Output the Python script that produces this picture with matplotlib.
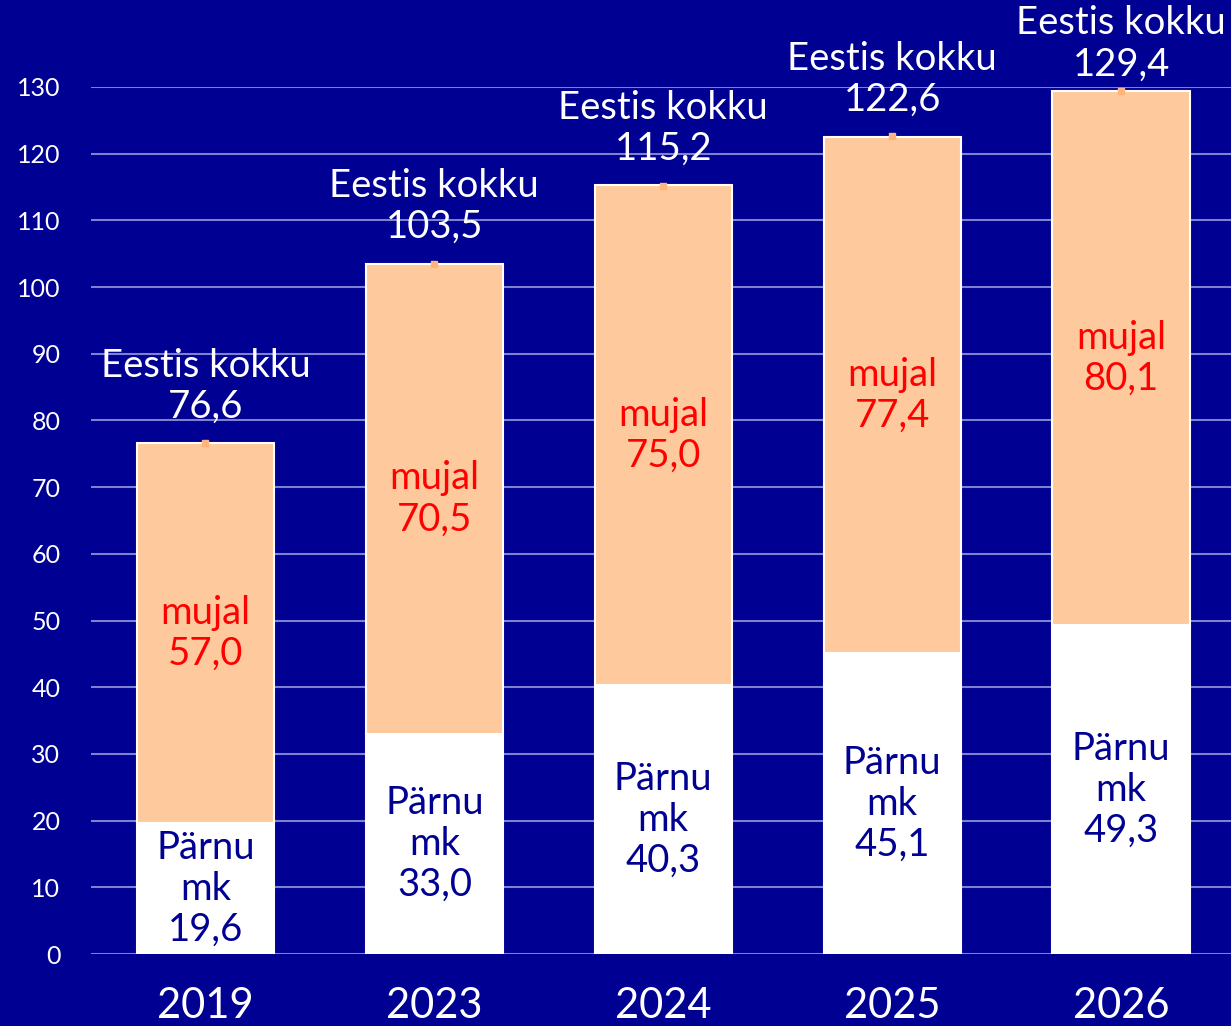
import matplotlib
matplotlib.use("Agg")
import matplotlib.pyplot as plt
import numpy as np

years = ["2019", "2023", "2024", "2025", "2026"]
parnu = [19.6, 33.0, 40.3, 45.1, 49.3]
mujal = [57.0, 70.5, 75.0, 77.4, 80.1]
totals = [76.6, 103.5, 115.2, 122.6, 129.4]
yticks = list(range(0, 140, 10))

def fmt(v):
    return f"{v:.1f}".replace(".", ",")

BG = "#000092"
PEACH = "#FFC99E"
plt.rcParams["font.family"] = ["Lato", "DejaVu Sans"]

fig = plt.figure(figsize=(12.31, 10.26), dpi=100, facecolor=BG)
ax = fig.add_axes([91/1231, 72/1026, 1140/1231, 867/1026], facecolor=BG)

x = np.arange(len(years))
w = 0.6
ax.bar(x, parnu, width=w, color="white", edgecolor="white", linewidth=1.5, zorder=2)
ax.bar(x, mujal, width=w, bottom=parnu, color=PEACH, edgecolor="white", linewidth=1.5, zorder=2)
ax.scatter(x, totals, marker="s", s=18, color="#FFB47A", zorder=3, clip_on=False)

for i in range(len(years)):
    ax.text(x[i], parnu[i] / 2, f"Pärnu\nmk\n{fmt(parnu[i])}", ha="center", va="center",
            color=BG, fontsize=27.5, linespacing=1.17, zorder=4)
    ax.text(x[i], parnu[i] + mujal[i] / 2, f"mujal\n{fmt(mujal[i])}", ha="center", va="center",
            color="#FF0000", fontsize=27.5, linespacing=1.17, zorder=4)
    off = 2.8 if totals[i] < 125 else 1.3
    ax.text(x[i], totals[i] + off, f"Eestis kokku\n{fmt(totals[i])}", ha="center", va="bottom",
            color="white", fontsize=27.5, linespacing=1.17, zorder=4, clip_on=False)

ax.set_xlim(-0.5, 4.48)
ax.set_ylim(0, 130)
ax.set_yticks(yticks)
ax.set_yticklabels([str(t) for t in yticks])
ax.set_xticks(x)
ax.set_xticklabels(years)
ax.tick_params(axis="y", length=0, pad=22, labelsize=18, labelcolor="white")
ax.tick_params(axis="x", length=0, pad=24, labelsize=30, labelcolor="white")
ax.grid(axis="y", color="#8080D0", linewidth=1.5, zorder=0)
ax.set_axisbelow(True)
for s in ax.spines.values():
    s.set_visible(False)

fig.savefig("out.png", dpi=100, facecolor=BG)
